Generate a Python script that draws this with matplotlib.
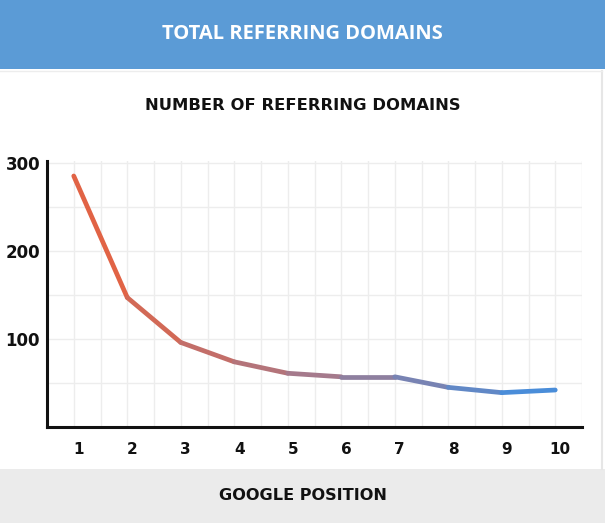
import matplotlib.pyplot as plt
from matplotlib.collections import LineCollection
from matplotlib.colors import LinearSegmentedColormap
from matplotlib.patches import Rectangle
from matplotlib.transforms import ScaledTranslation
import numpy as np

positions = [1, 2, 3, 4, 5, 6, 7, 8, 9, 10]
domains = [285, 147, 96, 74, 61, 57, 57, 45, 39, 42]
y_ticks = [100, 200, 300]

header_title = "TOTAL REFERRING DOMAINS"
chart_title = "NUMBER OF REFERRING DOMAINS"
x_title = "GOOGLE POSITION"

plt.rcParams['font.family'] = ['Lato', 'DejaVu Sans']

fig = plt.figure(figsize=(6.05, 5.23), dpi=100)

# header band and footer band
fig.patches.append(Rectangle((0, 1 - 69 / 523), 1, 69 / 523, transform=fig.transFigure,
                             facecolor='#5B9BD6', edgecolor='none', zorder=0))
fig.patches.append(Rectangle((0, 0), 1, 54 / 523, transform=fig.transFigure,
                             facecolor='#EBEBEB', edgecolor='none', zorder=0))
# thin frame line on right side
fig.add_artist(plt.Line2D([602 / 605, 602 / 605], [54 / 523, 1 - 71 / 523],
                          transform=fig.transFigure, color='#E6E6E6', lw=1.5))
fig.add_artist(plt.Line2D([0, 602 / 605], [1 - 70.5 / 523, 1 - 70.5 / 523],
                          transform=fig.transFigure, color='#EDEDED', lw=1))

fig.text(0.5, 1 - 34 / 523, header_title, color='white', fontsize=14.5,
         fontweight='bold', ha='center', va='center', family=['Open Sans', 'DejaVu Sans'])
fig.text(0.5, 1 - 105 / 523, chart_title, color='#111111', fontsize=11.8,
         fontweight='bold', ha='center', va='center', family=['DejaVu Sans'])
fig.text(0.5, 1 - 495 / 523, x_title, color='#111111', fontsize=11.6,
         fontweight='bold', ha='center', va='center', family=['DejaVu Sans'])

ax = fig.add_axes([47 / 605, 1 - 427 / 523, (582 - 47) / 605, (427 - 161) / 523])
ax.set_xlim(0.5, 10.5)
ax.set_ylim(0, 302)

# light grid every half step / 50 units
for gx in np.arange(1, 10.51, 0.5):
    ax.axvline(gx, color='#EDEDED', lw=1, zorder=0)
for gy in range(50, 301, 50):
    ax.axhline(gy, color='#EDEDED', lw=1, zorder=0)

# gradient line from orange-red to blue
cmap = LinearSegmentedColormap.from_list('grad', ['#E8603C', '#A57A8C', '#3F8FE3'])
pts = np.column_stack([positions, domains])
segs = np.stack([pts[:-1], pts[1:]], axis=1)
mids = (np.array(positions[:-1]) + np.array(positions[1:])) / 2
colors = cmap((mids - 1) / 9)
lc = LineCollection(segs, colors=colors, linewidths=3.4, capstyle='round',
                    joinstyle='round', zorder=3)
ax.add_collection(lc)

for s in ['top', 'right']:
    ax.spines[s].set_visible(False)
for s in ['left', 'bottom']:
    ax.spines[s].set_linewidth(2.2)
    ax.spines[s].set_color('#111111')

ax.set_xticks(positions)
ax.set_xticklabels([str(p) for p in positions])
ax.set_yticks(y_ticks)
ax.set_yticklabels([str(t) for t in y_ticks])
ax.tick_params(length=0)
ax.tick_params(axis='x', pad=11, labelsize=11)
ax.tick_params(axis='y', pad=5, labelsize=12)
for lab in ax.get_xticklabels() + ax.get_yticklabels():
    lab.set_fontweight('bold')
    lab.set_family(['DejaVu Sans'])
    lab.set_color('#111111')
for lab in ax.get_xticklabels():
    lab.set_transform(lab.get_transform() + ScaledTranslation(5 / 100, 0, fig.dpi_scale_trans))

fig.savefig('out.png', dpi=100)
